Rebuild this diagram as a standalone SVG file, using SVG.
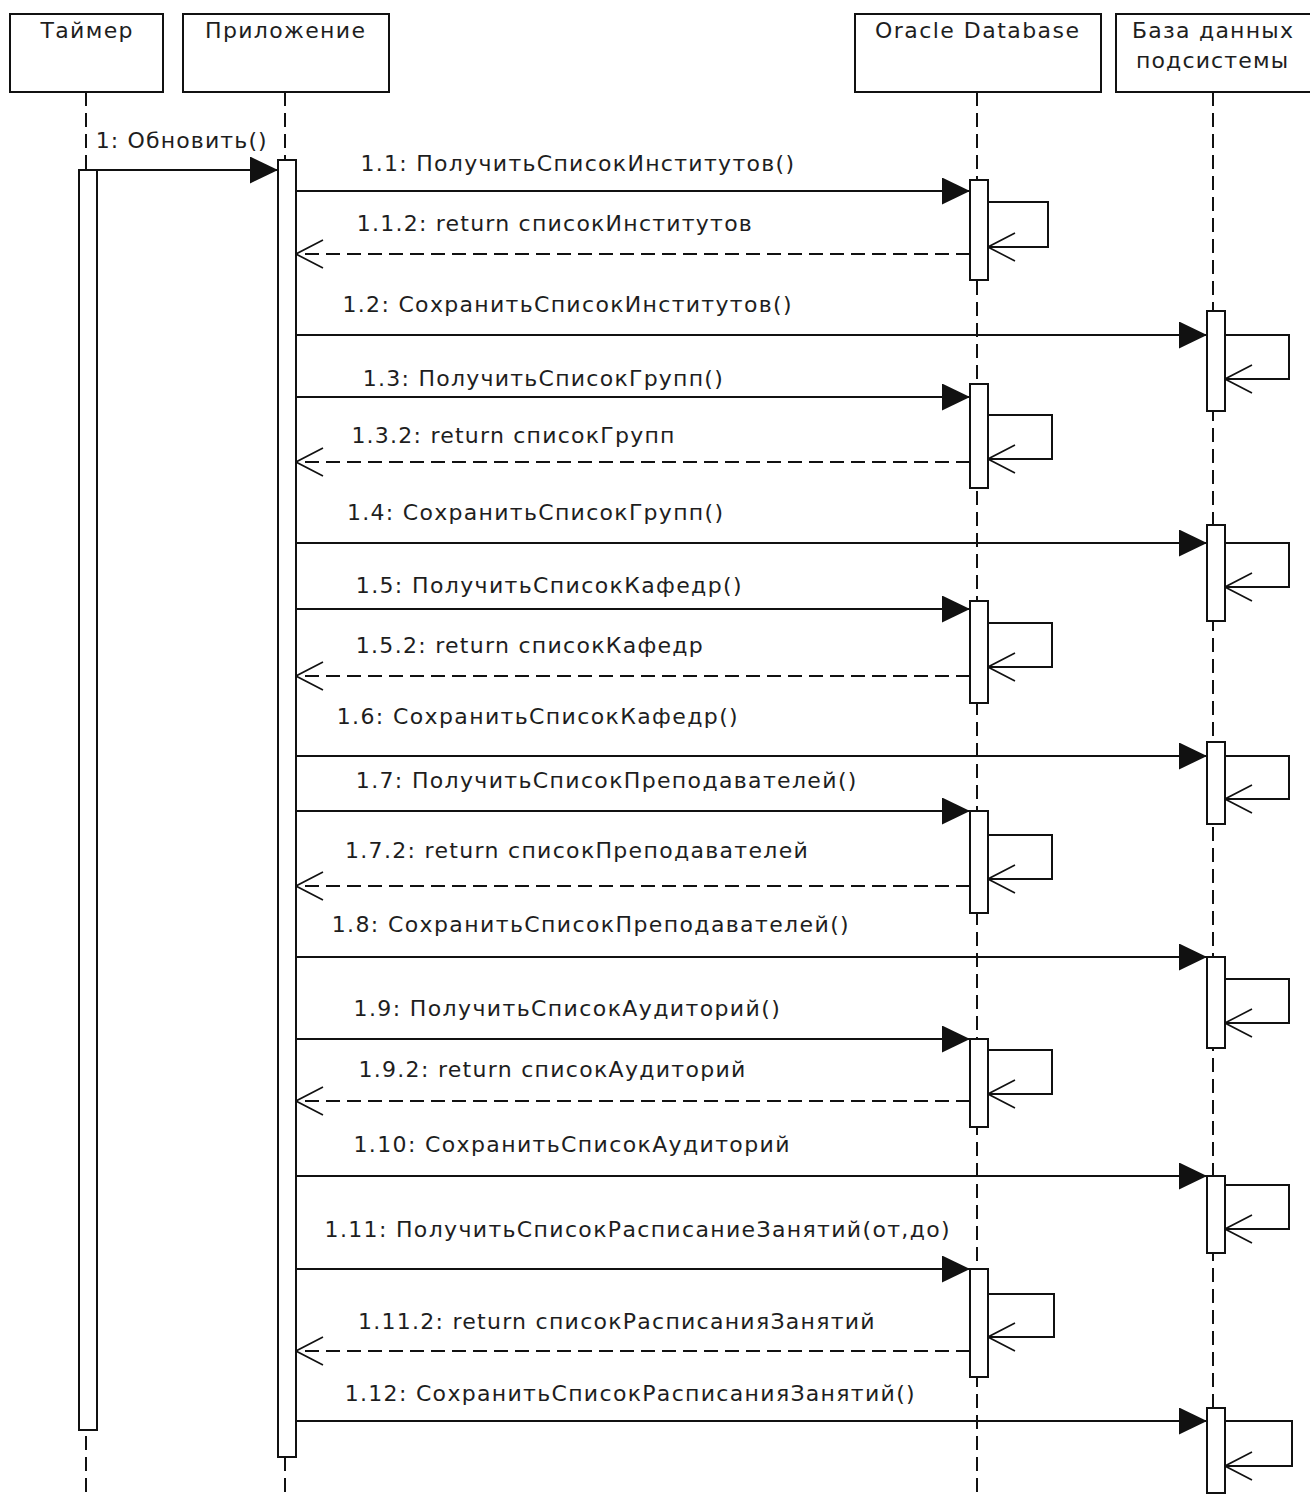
<svg xmlns="http://www.w3.org/2000/svg" width="1310" height="1495" viewBox="0 0 1310 1495">
<style>
  .box { fill: #ffffff; stroke: #111; stroke-width: 2; }
  .life { stroke: #111; stroke-width: 2; stroke-dasharray: 14 7; fill: none; }
  .act { fill: #ffffff; stroke: #111; stroke-width: 2; }
  .msg { stroke: #111; stroke-width: 2; fill: none; marker-end: url(#filled); }
  .ret { stroke: #111; stroke-width: 2; fill: none; stroke-dasharray: 14 7; marker-end: url(#open); }
  .loop { stroke: #111; stroke-width: 2; fill: none; marker-end: url(#open); }
  text { font-family: "DejaVu Sans", "Noto Sans", sans-serif; font-size: 22px; fill: #1e1e1e; }
  .hd { text-anchor: middle; }
</style>
<defs>
  <marker id="filled" markerUnits="userSpaceOnUse" viewBox="0 0 28 27" refX="28" refY="13.5" markerWidth="28" markerHeight="27" orient="auto">
    <path d="M0,0 L28,13.5 L0,27 Z" fill="#111"/>
  </marker>
  <marker id="open" markerUnits="userSpaceOnUse" viewBox="0 0 30 30" refX="29" refY="15" markerWidth="30" markerHeight="30" orient="auto">
    <path d="M2,1 L29,15 L2,29" fill="none" stroke="#111" stroke-width="1.6"/>
  </marker>
</defs>

<g id="timer">
  <rect class="box" x="10" y="14" width="153" height="78"/>
  <text class="hd" x="86.5" y="38" textLength="92" lengthAdjust="spacing">Таймер</text>
  <line class="life" x1="86" y1="92" x2="86" y2="1495"/>
  <rect class="act" x="79" y="170" width="18" height="1260"/>
</g>

<g id="app">
  <rect class="box" x="183" y="14" width="206" height="78"/>
  <text class="hd" x="285" y="38" textLength="160" lengthAdjust="spacing">Приложение</text>
  <line class="life" x1="285" y1="92" x2="285" y2="1495"/>
  <rect class="act" x="278" y="160" width="18" height="1297"/>
</g>

<g id="oracle">
  <rect class="box" x="855" y="14" width="246" height="78"/>
  <text class="hd" x="977" y="38" textLength="204" lengthAdjust="spacing">Oracle Database</text>
  <line class="life" x1="977" y1="92" x2="977" y2="1495"/>
  <rect class="act" x="970" y="180" width="18" height="100"/>
  <rect class="act" x="970" y="384" width="18" height="104"/>
  <rect class="act" x="970" y="601" width="18" height="102"/>
  <rect class="act" x="970" y="811" width="18" height="102"/>
  <rect class="act" x="970" y="1039" width="18" height="88"/>
  <rect class="act" x="970" y="1269" width="18" height="108"/>
</g>

<g id="subsystem-db">
  <rect class="box" x="1116" y="14" width="200" height="78"/>
  <text class="hd" x="1212.5" y="38" textLength="161" lengthAdjust="spacing">База данных</text>
  <text class="hd" x="1212" y="68" textLength="152" lengthAdjust="spacing">подсистемы</text>
  <line class="life" x1="1213" y1="92" x2="1213" y2="1495"/>
  <rect class="act" x="1207" y="311" width="18" height="100"/>
  <rect class="act" x="1207" y="525" width="18" height="96"/>
  <rect class="act" x="1207" y="742" width="18" height="82"/>
  <rect class="act" x="1207" y="957" width="18" height="91"/>
  <rect class="act" x="1207" y="1176" width="18" height="77"/>
  <rect class="act" x="1207" y="1408" width="18" height="85"/>
</g>

<g id="connectors">
  <line class="msg" x1="97" y1="170" x2="278" y2="170"/>
  <text x="95.7" y="148" textLength="171" lengthAdjust="spacing">1: Обновить()</text>

  <line class="msg" x1="296" y1="191" x2="970" y2="191"/>
  <text x="360.4" y="171" textLength="433.6" lengthAdjust="spacing">1.1: ПолучитьСписокИнститутов()</text>
  <polyline class="loop" points="988,202 1048,202 1048,247 988,247"/>
  <line class="ret" x1="970" y1="254" x2="296" y2="254"/>
  <text x="356.8" y="230.5" textLength="395" lengthAdjust="spacing">1.1.2: return списокИнститутов</text>

  <line class="msg" x1="296" y1="335" x2="1207" y2="335"/>
  <text x="342.5" y="312" textLength="449" lengthAdjust="spacing">1.2: СохранитьСписокИнститутов()</text>
  <polyline class="loop" points="1225,335 1289,335 1289,379 1225,379"/>

  <line class="msg" x1="296" y1="397" x2="970" y2="397"/>
  <text x="362.8" y="386" textLength="360" lengthAdjust="spacing">1.3: ПолучитьСписокГрупп()</text>
  <polyline class="loop" points="988,415 1052,415 1052,459 988,459"/>
  <line class="ret" x1="970" y1="462" x2="296" y2="462"/>
  <text x="351.4" y="442.5" textLength="323" lengthAdjust="spacing">1.3.2: return списокГрупп</text>

  <line class="msg" x1="296" y1="543" x2="1207" y2="543"/>
  <text x="347" y="520" textLength="376" lengthAdjust="spacing">1.4: СохранитьСписокГрупп()</text>
  <polyline class="loop" points="1225,543 1289,543 1289,587 1225,587"/>

  <line class="msg" x1="296" y1="609" x2="970" y2="609"/>
  <text x="355.8" y="593" textLength="385.7" lengthAdjust="spacing">1.5: ПолучитьСписокКафедр()</text>
  <polyline class="loop" points="988,623 1052,623 1052,667 988,667"/>
  <line class="ret" x1="970" y1="676" x2="296" y2="676"/>
  <text x="355.8" y="652.5" textLength="347" lengthAdjust="spacing">1.5.2: return списокКафедр</text>

  <line class="msg" x1="296" y1="756" x2="1207" y2="756"/>
  <text x="336.7" y="724" textLength="401" lengthAdjust="spacing">1.6: СохранитьСписокКафедр()</text>
  <polyline class="loop" points="1225,756 1289,756 1289,799 1225,799"/>

  <line class="msg" x1="296" y1="811" x2="970" y2="811"/>
  <text x="355.8" y="788" textLength="500.6" lengthAdjust="spacing">1.7: ПолучитьСписокПреподавателей()</text>
  <polyline class="loop" points="988,835 1052,835 1052,879 988,879"/>
  <line class="ret" x1="970" y1="886" x2="296" y2="886"/>
  <text x="345" y="857.5" textLength="462.8" lengthAdjust="spacing">1.7.2: return списокПреподавателей</text>

  <line class="msg" x1="296" y1="957" x2="1207" y2="957"/>
  <text x="331.7" y="931.5" textLength="517" lengthAdjust="spacing">1.8: СохранитьСписокПреподавателей()</text>
  <polyline class="loop" points="1225,979 1289,979 1289,1023 1225,1023"/>

  <line class="msg" x1="296" y1="1039" x2="970" y2="1039"/>
  <text x="353.5" y="1016" textLength="426.3" lengthAdjust="spacing">1.9: ПолучитьСписокАудиторий()</text>
  <polyline class="loop" points="988,1050 1052,1050 1052,1094 988,1094"/>
  <line class="ret" x1="970" y1="1101" x2="296" y2="1101"/>
  <text x="358.5" y="1076.5" textLength="386.8" lengthAdjust="spacing">1.9.2: return списокАудиторий</text>

  <line class="msg" x1="296" y1="1176" x2="1207" y2="1176"/>
  <text x="353.5" y="1152" textLength="436" lengthAdjust="spacing">1.10: СохранитьСписокАудиторий</text>
  <polyline class="loop" points="1225,1185 1289,1185 1289,1229 1225,1229"/>

  <line class="msg" x1="296" y1="1269" x2="970" y2="1269"/>
  <text x="324.6" y="1236.5" textLength="625" lengthAdjust="spacing">1.11: ПолучитьСписокРасписаниеЗанятий(от,до)</text>
  <polyline class="loop" points="988,1294 1054,1294 1054,1337 988,1337"/>
  <line class="ret" x1="970" y1="1351" x2="296" y2="1351"/>
  <text x="358" y="1329" textLength="516.6" lengthAdjust="spacing">1.11.2: return списокРасписанияЗанятий</text>

  <line class="msg" x1="296" y1="1421" x2="1207" y2="1421"/>
  <text x="344.7" y="1400.5" textLength="570" lengthAdjust="spacing">1.12: СохранитьСписокРасписанияЗанятий()</text>
  <polyline class="loop" points="1225,1421 1292,1421 1292,1466 1225,1466"/>
</g>
</svg>
